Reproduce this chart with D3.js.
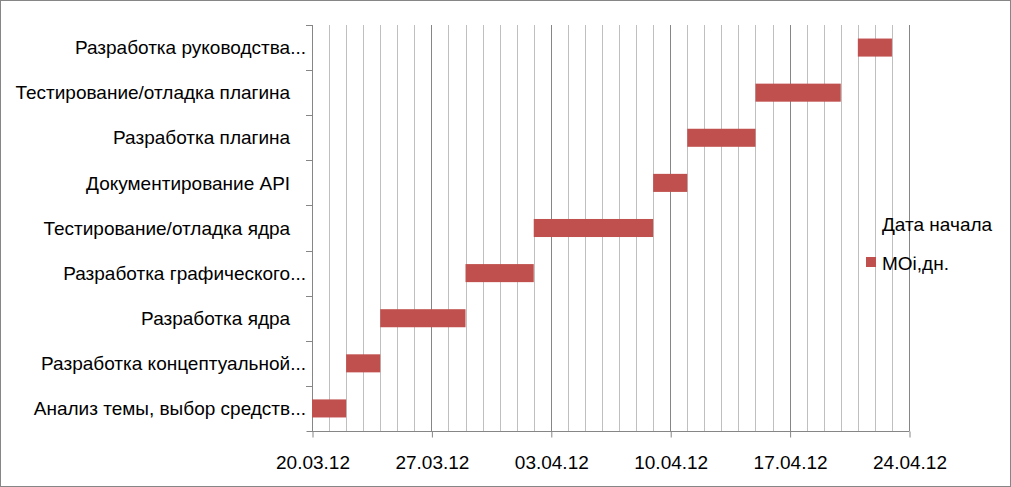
<!DOCTYPE html>
<html>
<head>
<meta charset="utf-8">
<script src="https://cdn.jsdelivr.net/npm/d3@7"></script>
<style>
  html, body { margin: 0; padding: 0; background: #fff; }
  svg { display: block; font-family: "Liberation Sans", Arial, sans-serif; }
  text { white-space: pre; }
</style>
</head>
<body>
<svg id="chart" width="1011" height="487"></svg>
<script>
// ---- data ----
const tasks = [
  "Анализ темы, выбор средств...",
  "Разработка концептуальной...",
  "Разработка ядра   ",
  "Разработка графического...",
  "Тестирование/отладка ядра   ",
  "Документирование API   ",
  "Разработка плагина   ",
  "Тестирование/отладка плагина   ",
  "Разработка руководства..."
];
const startDates = ["20.03.12", "22.03.12", "24.03.12", "29.03.12", "02.04.12", "09.04.12", "11.04.12", "15.04.12", "21.04.12"];
const durations = [2, 2, 5, 4, 7, 2, 4, 5, 2];
const axisStart = "20.03.12";
const axisEnd = "24.04.12";
const tickLabels = ["20.03.12", "27.03.12", "03.04.12", "10.04.12", "17.04.12", "24.04.12"];
const legendLabels = ["Дата начала", "МОі,дн."];

// ---- chart ----
const parse = d3.timeParse("%d.%m.%y");
const fmt = d3.timeFormat("%d.%m.%y");
const W = 1011, H = 487;
const plot = { left: 312, right: 909, top: 25, bottom: 431 };
const barColor = "#c0504d";
const FS = 19;

const svg = d3.select("#chart");
svg.append("rect").attr("x", 0.5).attr("y", 0.5).attr("width", W - 1).attr("height", H - 1)
  .attr("fill", "#fff").attr("stroke", "#868686").attr("stroke-width", 1);

const x = d3.scaleTime().domain([parse(axisStart), parse(axisEnd)]).range([plot.left, plot.right]);
const y = d3.scaleBand().domain(tasks).range([plot.bottom, plot.top]).paddingInner(0.6).paddingOuter(0.3);
const yb = d3.scaleBand().domain(tasks).range([plot.bottom, plot.top]);

// daily minor gridlines
const days = d3.timeDay.range(parse(axisStart), d3.timeDay.offset(parse(axisEnd), 1));
const majorSet = new Set(tickLabels);
svg.append("g").selectAll("line").data(days.filter(d => !majorSet.has(fmt(d))))
  .join("line")
  .attr("x1", d => Math.round(x(d)) + 0.5).attr("x2", d => Math.round(x(d)) + 0.5)
  .attr("y1", plot.top).attr("y2", plot.bottom)
  .attr("stroke", "#bfbfbf").attr("stroke-width", 1);

// major gridlines
svg.append("g").selectAll("line").data(tickLabels.map(parse))
  .join("line")
  .attr("x1", d => Math.round(x(d)) + 0.5).attr("x2", d => Math.round(x(d)) + 0.5)
  .attr("y1", plot.top).attr("y2", plot.bottom)
  .attr("stroke", "#868686").attr("stroke-width", 1);

// x axis
const xAxis = d3.axisBottom(x).tickValues(tickLabels.map(parse)).tickFormat(fmt).tickSizeInner(6).tickSizeOuter(0).tickPadding(18);
const gx = svg.append("g").attr("transform", `translate(0.5,${plot.bottom + 0.5})`).call(xAxis);
gx.select(".domain").attr("stroke", "#868686").attr("d", `M${plot.left - 6},0H${plot.right}`);
gx.selectAll(".tick line").attr("stroke", "#868686");
gx.selectAll(".tick text").attr("fill", "#000").attr("font-size", FS).attr("font-family", "Liberation Sans, Arial, sans-serif");

// y axis
const boundaries = tasks.map(t => yb(t)).concat([plot.top]);
svg.append("line").attr("x1", plot.left + 0.5).attr("x2", plot.left + 0.5).attr("y1", plot.top).attr("y2", plot.bottom)
  .attr("stroke", "#868686");
svg.append("g").selectAll("line").data(boundaries).join("line")
  .attr("x1", plot.left - 6).attr("x2", plot.left)
  .attr("y1", d => Math.round(d) + 0.5).attr("y2", d => Math.round(d) + 0.5)
  .attr("stroke", "#868686");
svg.append("g").selectAll("text").data(tasks).join("text")
  .attr("xml:space", "preserve")
  .attr("x", plot.left - 6).attr("y", d => yb(d) + yb.bandwidth() / 2)
  .attr("dy", "0.35em").attr("text-anchor", "end").attr("font-size", FS).attr("fill", "#000")
  .text(d => d);

// bars
svg.append("g").selectAll("rect").data(tasks).join("rect")
  .attr("x", (d, i) => x(parse(startDates[i])))
  .attr("width", (d, i) => x(d3.timeDay.offset(parse(startDates[i]), durations[i])) - x(parse(startDates[i])))
  .attr("y", d => y(d))
  .attr("height", y.bandwidth())
  .attr("fill", barColor);

// legend
const lg = svg.append("g");
lg.append("text").attr("x", 882).attr("y", 231).attr("font-size", FS).attr("fill", "#000").text(legendLabels[0]);
lg.append("rect").attr("x", 866).attr("y", 257).attr("width", 10).attr("height", 10).attr("fill", barColor);
lg.append("text").attr("x", 882).attr("y", 270).attr("font-size", FS).attr("fill", "#000").text(legendLabels[1]);
</script>
</body>
</html>
